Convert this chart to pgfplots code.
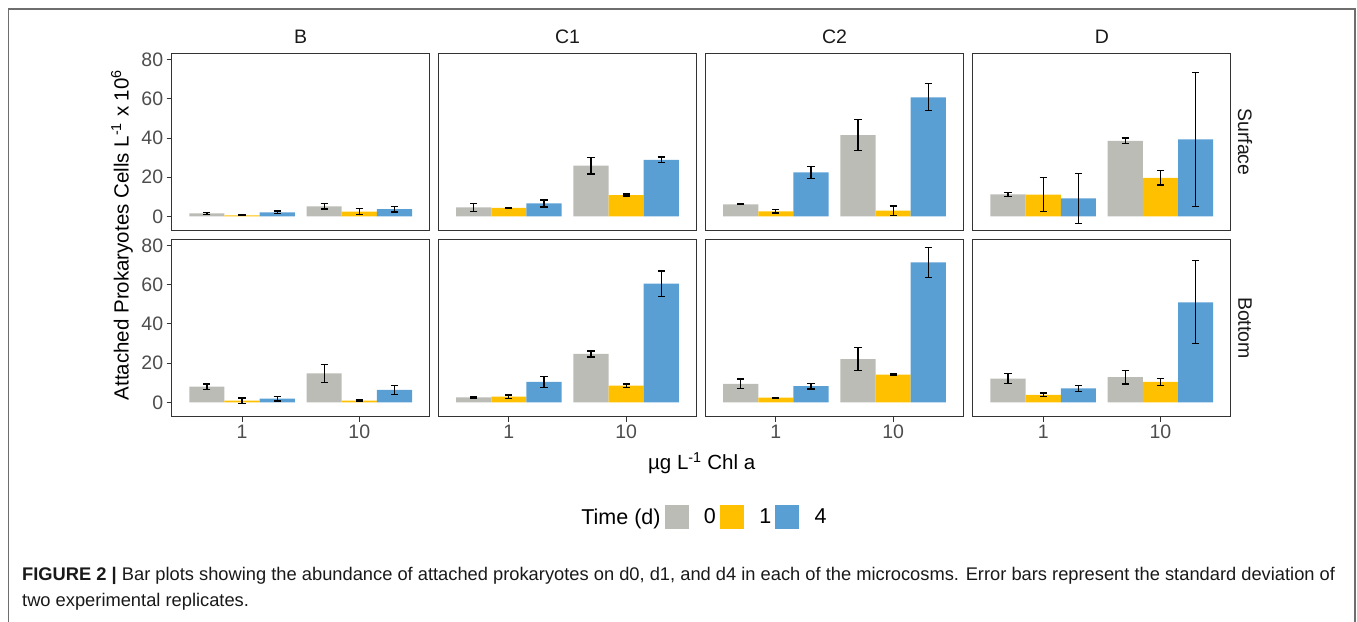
\documentclass[border=0pt]{standalone}
\usepackage{fontspec}
\setmainfont{Liberation Sans}
\usepackage{pgfplots}
\usepackage{pgfplotstable}
\pgfplotsset{compat=1.18}
\definecolor{cgray}{HTML}{BBBCB6}
\definecolor{corange}{HTML}{FFC000}
\definecolor{cblue}{HTML}{5A9FD4}
\definecolor{gtwenty}{HTML}{333333}
\definecolor{gthirty}{HTML}{4D4D4D}
\definecolor{frame}{HTML}{6E6E6E}

% c: 1 -> "1", 2 -> "10"; g/o/b = days 0/1/4 means, ge/oe/be = SD
\pgfplotstableread{
c g ge o oe b be
1 1.5 0.4 0.5 0.2 2.0 0.7
2 5.1 1.3 2.4 1.6 3.7 1.4
}\tBs
\pgfplotstableread{
c g ge o oe b be
1 4.6 2.0 4.4 0.3 6.6 1.8
2 25.9 4.3 10.9 0.5 28.9 1.4
}\tCas
\pgfplotstableread{
c g ge o oe b be
1 6.1 0.2 2.55 0.8 22.5 3.1
2 41.5 8.0 2.9 2.4 60.8 6.9
}\tCbs
\pgfplotstableread{
c g ge o oe b be
1 11.2 1.0 11.1 8.7 9.2 12.7
2 38.6 1.5 19.7 3.7 39.3 34.3
}\tDs
\pgfplotstableread{
c g ge o oe b be
1 8.0 1.3 0.85 1.3 1.9 1.2
2 14.8 4.5 0.85 0.3 6.3 2.2
}\tBb
\pgfplotstableread{
c g ge o oe b be
1 2.55 0.4 2.9 0.85 10.4 2.8
2 24.7 1.5 8.5 0.85 60.6 6.45
}\tCab
\pgfplotstableread{
c g ge o oe b be
1 9.4 2.5 2.4 0.2 8.3 1.45
2 22.1 5.9 14.1 0.3 71.5 7.75
}\tCbb
\pgfplotstableread{
c g ge o oe b be
1 12.1 2.45 3.75 0.95 7.15 1.45
2 12.9 3.5 10.4 1.8 51.1 21.2
}\tDb

\pgfplotsset{
  panel/.style={scale only axis, width=258pt, height=177.5pt,
    xmin=0.4, xmax=2.6, ymin=-7.35, ymax=83.3,
    axis line style={gtwenty, line width=1pt},
    tick style={gtwenty, line width=1pt}, major tick length=5pt, tick align=outside,
    xtick pos=bottom, ytick pos=left,
    xtick=\empty, ytick=\empty,
    ticklabel style={font=\fontsize{19.5}{19.5}\selectfont, text=gthirty},
    /pgf/number format/assume math mode=true},
  eb/.style={error bars/.cd, y dir=both, y explicit,
    error bar style={black, line width=1.25pt},
    error mark options={black, line width=1.25pt, mark size=3.6pt, rotate=90}},
  br/.style={ybar, bar width=0.3, bar shift=0pt, draw=none, fill=#1}
}

\newcommand{\panel}[4]{%
\begin{axis}[panel, at={(#1pt,#2pt)}, anchor=south west, #4]
\addplot[br=cgray, eb] table[x expr=\thisrow{c}-0.3, y=g, y error=ge] {#3};
\addplot[br=corange, eb] table[x=c, y=o, y error=oe] {#3};
\addplot[br=cblue, eb] table[x expr=\thisrow{c}+0.3, y=b, y error=be] {#3};
\end{axis}}

\begin{document}
\begin{tikzpicture}[x=1pt,y=1pt]
\useasboundingbox (0,0) rectangle (1357,621);
\draw[frame, line width=1.2pt] (8.5,-2) -- (8.5,612) -- (1355,612) -- (1355,-2);

\panel{171.7}{390.2}{\tBs}{ytick={0,20,40,60,80}}
\panel{438.5}{390.2}{\tCas}{}
\panel{705.5}{390.2}{\tCbs}{}
\panel{972.8}{390.2}{\tDs}{}
\panel{171.7}{204.3}{\tBb}{ytick={0,20,40,60,80}, xtick={1,2}, xticklabels={1,10}}
\panel{438.5}{204.3}{\tCab}{xtick={1,2}, xticklabels={1,10}}
\panel{705.5}{204.3}{\tCbb}{xtick={1,2}, xticklabels={1,10}}
\panel{972.8}{204.3}{\tDb}{xtick={1,2}, xticklabels={1,10}}

\begin{axis}[at={(697pt,104pt)}, anchor=center, scale only axis, width=1pt, height=1pt,
  hide axis, xmin=0, xmax=1, ymin=0, ymax=1, legend columns=-1,
  legend style={at={(0.5,0.5)}, anchor=center, draw=none, fill=none,
    font=\fontsize{21.5}{21.5}\selectfont,
    /tikz/every odd column/.append style={column sep=14pt},
    /tikz/every even column/.append style={column sep=2pt}}]
\addlegendimage{empty legend}\addlegendentry{Time (d)}
\addlegendimage{legend image code/.code={\fill[cgray] (0pt,-11.5pt) rectangle (23pt,11.5pt);}}\addlegendentry{0}
\addlegendimage{legend image code/.code={\fill[corange] (0pt,-11.5pt) rectangle (23pt,11.5pt);}}\addlegendentry{1}
\addlegendimage{legend image code/.code={\fill[cblue] (0pt,-11.5pt) rectangle (23pt,11.5pt);}}\addlegendentry{4}
\end{axis}

\begin{scope}[every node/.style={font=\fontsize{19.5}{19.5}\selectfont, text=black!90}]
\node at (300.6,584) {B};
\node at (567.5,584) {C1};
\node at (834.5,584) {C2};
\node at (1101.9,584) {D};
\node[rotate=-90] at (1245,479) {Surface};
\node[rotate=-90] at (1245,293) {Bottom};
\end{scope}
\begin{scope}[every node/.style={font=\fontsize{20.5}{20.5}\selectfont, text=black}]
\node[rotate=90] at (122,386) {Attached Prokaryotes Cells L\textsuperscript{-1} x 10\textsuperscript{6}};
\node at (701.7,158) {µg L\textsuperscript{-1} Chl a};
\end{scope}

\node[anchor=base west, inner sep=0, font=\fontsize{18.3}{20}\selectfont, text=black!90] at (22,40)
 {\textbf{FIGURE 2 |} Bar plots showing the abundance of attached prokaryotes on d0, d1, and d4 in each of the microcosms. Error bars represent the standard deviation of};
\node[anchor=base west, inner sep=0, font=\fontsize{18.3}{20}\selectfont, text=black!90] at (22,14)
 {two experimental replicates.};
\end{tikzpicture}
\end{document}
